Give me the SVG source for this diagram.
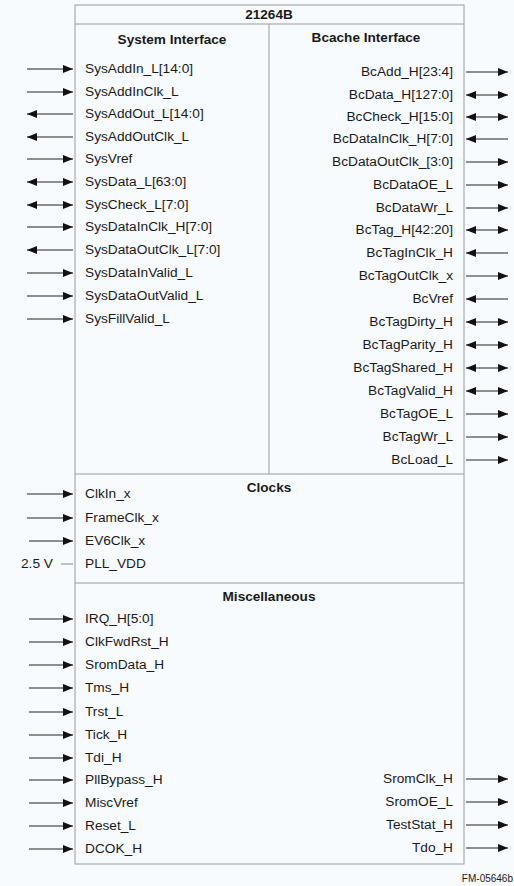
<svg xmlns="http://www.w3.org/2000/svg" width="514" height="886" viewBox="0 0 514 886">
<defs>
<marker id="ah" viewBox="0 0 10 8" refX="10" refY="4" markerWidth="10" markerHeight="8" markerUnits="userSpaceOnUse" orient="auto-start-reverse"><path d="M0,0 L10,4 L0,8 z" fill="#111"/></marker>
<style>
text{font-family:"Liberation Sans",Arial,sans-serif;font-size:13.7px;fill:#1a1a1a}
.h{font-weight:bold;font-size:13.6px}
.r{text-anchor:end}
.c{text-anchor:middle}
.box{fill:none;stroke:#9a9a9a;stroke-width:1}
.w{stroke:#222;stroke-width:1.2;fill:none}
.o{marker-end:url(#ah)}
.b{marker-start:url(#ah);marker-end:url(#ah)}
</style>
</defs>
<rect width="514" height="886" fill="#f8fbfd"/>
<g id="chip">
<rect class="box" x="75" y="5" width="389" height="859"/>
<line class="box" x1="75" y1="24" x2="464" y2="24"/>
<line class="box" x1="269" y1="24" x2="269" y2="474"/>
<line class="box" x1="75" y1="474" x2="464" y2="474"/>
<line class="box" x1="75" y1="583" x2="464" y2="583"/>
<text class="h c" x="269" y="19">21264B</text>
<text class="h c" x="172" y="44">System Interface</text>
<text class="h c" x="366" y="42">Bcache Interface</text>
<text class="h c" x="269" y="492">Clocks</text>
<text class="h c" x="269" y="601">Miscellaneous</text>
</g>
<g id="system-interface">
<text x="85" y="73">SysAddIn_L[14:0]</text>
<text x="85" y="96">SysAddInClk_L</text>
<text x="85" y="118">SysAddOut_L[14:0]</text>
<text x="85" y="141">SysAddOutClk_L</text>
<text x="85" y="163">SysVref</text>
<text x="85" y="186">SysData_L[63:0]</text>
<text x="85" y="209">SysCheck_L[7:0]</text>
<text x="85" y="231">SysDataInClk_H[7:0]</text>
<text x="85" y="254">SysDataOutClk_L[7:0]</text>
<text x="85" y="277">SysDataInValid_L</text>
<text x="85" y="300">SysDataOutValid_L</text>
<text x="85" y="323">SysFillValid_L</text>
</g>
<g id="bcache-interface">
<text class="r" x="453" y="76">BcAdd_H[23:4]</text>
<text class="r" x="453" y="99">BcData_H[127:0]</text>
<text class="r" x="453" y="121">BcCheck_H[15:0]</text>
<text class="r" x="453" y="143">BcDataInClk_H[7:0]</text>
<text class="r" x="453" y="166">BcDataOutClk_[3:0]</text>
<text class="r" x="453" y="189">BcDataOE_L</text>
<text class="r" x="453" y="212">BcDataWr_L</text>
<text class="r" x="453" y="234">BcTag_H[42:20]</text>
<text class="r" x="453" y="257">BcTagInClk_H</text>
<text class="r" x="453" y="280">BcTagOutClk_x</text>
<text class="r" x="453" y="303">BcVref</text>
<text class="r" x="453" y="326">BcTagDirty_H</text>
<text class="r" x="453" y="349">BcTagParity_H</text>
<text class="r" x="453" y="372">BcTagShared_H</text>
<text class="r" x="453" y="395">BcTagValid_H</text>
<text class="r" x="453" y="418">BcTagOE_L</text>
<text class="r" x="453" y="441">BcTagWr_L</text>
<text class="r" x="453" y="464">BcLoad_L</text>
</g>
<g id="clocks">
<text x="85" y="498">ClkIn_x</text>
<text x="85" y="522">FrameClk_x</text>
<text x="85" y="545">EV6Clk_x</text>
<text x="85" y="568">PLL_VDD</text>
<text x="21" y="568">2.5  V</text>
</g>
<g id="miscellaneous">
<text x="85" y="623">IRQ_H[5:0]</text>
<text x="85" y="646">ClkFwdRst_H</text>
<text x="85" y="669">SromData_H</text>
<text x="85" y="692">Tms_H</text>
<text x="85" y="716">Trst_L</text>
<text x="85" y="739">Tick_H</text>
<text x="85" y="762">Tdi_H</text>
<text x="85" y="784">PllBypass_H</text>
<text x="85" y="807">MiscVref</text>
<text x="85" y="830">Reset_L</text>
<text x="85" y="853">DCOK_H</text>
<text class="r" x="453" y="783">SromClk_H</text>
<text class="r" x="453" y="806">SromOE_L</text>
<text class="r" x="453" y="829">TestStat_H</text>
<text class="r" x="453" y="852">Tdo_H</text>
</g>
<g id="connectors">
<line class="w o" x1="27" y1="69" x2="73" y2="69"/>
<line class="w o" x1="27" y1="92" x2="73" y2="92"/>
<line class="w o" x1="73" y1="114" x2="27" y2="114"/>
<line class="w o" x1="73" y1="137" x2="27" y2="137"/>
<line class="w o" x1="27" y1="159" x2="73" y2="159"/>
<line class="w b" x1="27" y1="182" x2="73" y2="182"/>
<line class="w b" x1="27" y1="205" x2="73" y2="205"/>
<line class="w o" x1="27" y1="227" x2="73" y2="227"/>
<line class="w o" x1="73" y1="250" x2="27" y2="250"/>
<line class="w o" x1="27" y1="273" x2="73" y2="273"/>
<line class="w o" x1="27" y1="296" x2="73" y2="296"/>
<line class="w o" x1="27" y1="319" x2="73" y2="319"/>

<line class="w o" x1="466" y1="72" x2="508" y2="72"/>
<line class="w b" x1="466" y1="95" x2="508" y2="95"/>
<line class="w b" x1="466" y1="117" x2="508" y2="117"/>
<line class="w o" x1="508" y1="139" x2="466" y2="139"/>
<line class="w o" x1="466" y1="162" x2="508" y2="162"/>
<line class="w o" x1="466" y1="185" x2="508" y2="185"/>
<line class="w o" x1="466" y1="208" x2="508" y2="208"/>
<line class="w b" x1="466" y1="230" x2="508" y2="230"/>
<line class="w o" x1="508" y1="253" x2="466" y2="253"/>
<line class="w o" x1="466" y1="276" x2="508" y2="276"/>
<line class="w o" x1="508" y1="299" x2="466" y2="299"/>
<line class="w b" x1="466" y1="322" x2="508" y2="322"/>
<line class="w b" x1="466" y1="345" x2="508" y2="345"/>
<line class="w b" x1="466" y1="368" x2="508" y2="368"/>
<line class="w b" x1="466" y1="391" x2="508" y2="391"/>
<line class="w o" x1="466" y1="414" x2="508" y2="414"/>
<line class="w o" x1="466" y1="437" x2="508" y2="437"/>
<line class="w o" x1="466" y1="460" x2="508" y2="460"/>

<line class="w o" x1="27" y1="494" x2="73" y2="494"/>
<line class="w o" x1="27" y1="518" x2="73" y2="518"/>
<line class="w o" x1="29" y1="541" x2="73" y2="541"/>
<line x1="61" y1="564" x2="73" y2="564" stroke="#888" stroke-width="1"/>

<line class="w o" x1="29" y1="619" x2="73" y2="619"/>
<line class="w o" x1="29" y1="642" x2="73" y2="642"/>
<line class="w o" x1="29" y1="665" x2="73" y2="665"/>
<line class="w o" x1="29" y1="688" x2="73" y2="688"/>
<line class="w o" x1="29" y1="712" x2="73" y2="712"/>
<line class="w o" x1="29" y1="735" x2="73" y2="735"/>
<line class="w o" x1="29" y1="758" x2="73" y2="758"/>
<line class="w o" x1="29" y1="780" x2="73" y2="780"/>
<line class="w o" x1="29" y1="803" x2="73" y2="803"/>
<line class="w o" x1="29" y1="826" x2="73" y2="826"/>
<line class="w o" x1="29" y1="849" x2="73" y2="849"/>

<line class="w o" x1="466" y1="779" x2="508" y2="779"/>
<line class="w o" x1="466" y1="802" x2="508" y2="802"/>
<line class="w o" x1="466" y1="825" x2="508" y2="825"/>
<line class="w o" x1="466" y1="848" x2="508" y2="848"/>
</g>
<text x="513" y="882" class="r" style="font-size:10px">FM-05646b</text>
</svg>
